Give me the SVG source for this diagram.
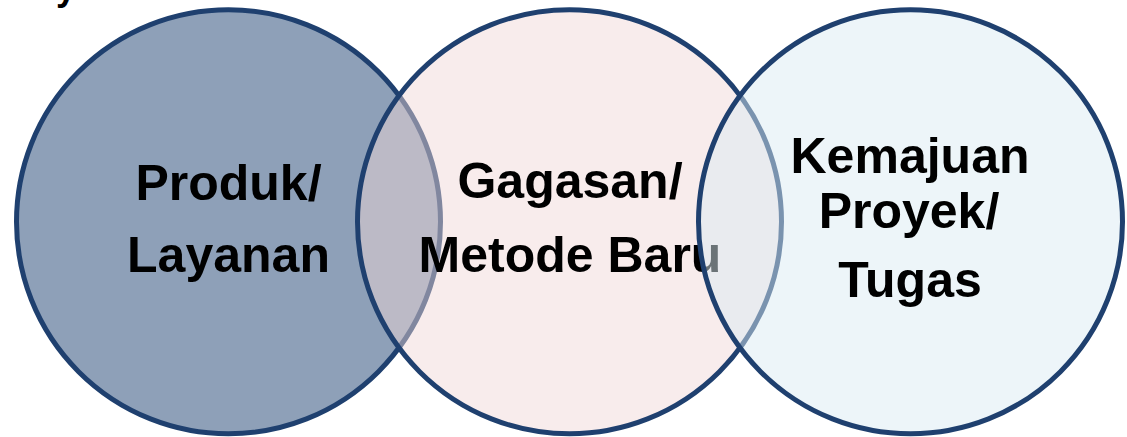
<svg xmlns="http://www.w3.org/2000/svg" width="1127" height="437" viewBox="0 0 1127 437">
<style>
.c{stroke:#1F406F;stroke-width:5}
.t{font-family:"Liberation Sans",Arial,sans-serif;font-weight:bold;font-size:50px;fill:#000;text-anchor:middle}
</style>
<rect width="1127" height="437" fill="#fff"/>
<text class="t" x="56" y="0" style="text-anchor:start;font-size:36px">y</text>
<g id="produk">
<circle class="c" cx="228.5" cy="221.75" r="212" fill="#8EA0B8"/>
<text class="t" x="228.5" y="200">Produk/</text>
<text class="t" x="228.5" y="272">Layanan</text>
</g>
<g id="gagasan">
<circle class="c" cx="569.5" cy="221.75" r="212" fill="#F0D6D6" fill-opacity="0.47"/>
<text class="t" x="570" y="198">Gagasan/</text>
<text class="t" x="570" y="272">Metode Baru</text>
</g>
<g id="kemajuan">
<circle class="c" cx="910.5" cy="221.75" r="212" fill="#DAEBF3" fill-opacity="0.49"/>
<text class="t" x="910" y="173">Kemajuan</text>
<text class="t" x="909" y="228">Proyek/</text>
<text class="t" x="910" y="297">Tugas</text>
</g>
<g id="connectors"/>
</svg>
